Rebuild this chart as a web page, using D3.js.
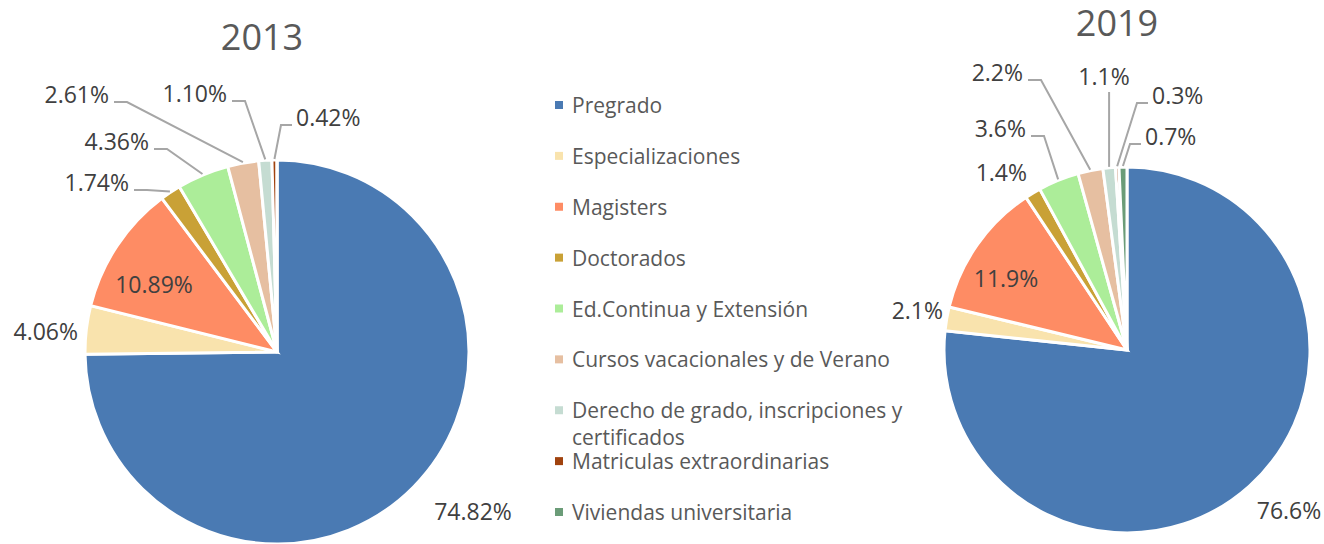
<!DOCTYPE html>
<html>
<head>
<meta charset="utf-8">
<script src="https://cdn.jsdelivr.net/npm/d3@7"></script>
<style>
  html, body { margin: 0; padding: 0; background: #fff; }
  svg { display: block; font-family: "Open Sans", "Noto Sans", sans-serif; }
</style>
</head>
<body>
<svg id="chart" width="1324" height="544"></svg>
<script>
// ---- data ----
const categories = [
  "Pregrado",
  "Especializaciones",
  "Magisters",
  "Doctorados",
  "Ed.Continua y Extensión",
  "Cursos vacacionales y de Verano",
  "Derecho de grado, inscripciones y certificados",
  "Matriculas extraordinarias",
  "Viviendas universitaria"
];
const values2013 = [74.82, 4.06, 10.89, 1.74, 4.36, 2.61, 1.10, 0.42, 0];
const labels2013 = ["74.82%", "4.06%", "10.89%", "1.74%", "4.36%", "2.61%", "1.10%", "0.42%", ""];
const values2019 = [76.6, 2.1, 11.9, 1.4, 3.6, 2.2, 1.1, 0.3, 0.7];
const labels2019 = ["76.6%", "2.1%", "11.9%", "1.4%", "3.6%", "2.2%", "1.1%", "0.3%", "0.7%"];
const colors = ["#4a7ab3", "#f9e3ad", "#fe8c64", "#c9a136", "#aced99", "#e6bfa1", "#c5dcd2", "#a0420e", "#6b9c78"];

// ---- layout (label placement relative to pie centre) ----
const layout2013 = [
  {a: "middle", x: 196, y: 159},
  {a: "end", x: -199, y: -21},
  {a: "middle", x: -123, y: -68},
  {a: "end", x: -148, y: -170, lead: "h"},
  {a: "end", x: -128, y: -211, lead: "h"},
  {a: "end", x: -168, y: -258, lead: "h"},
  {a: "end", x: -50, y: -259, lead: "h"},
  {a: "start", x: 19, y: -235, lead: "h"},
  null
];
const layout2019 = [
  {a: "middle", x: 162, y: 160},
  {a: "end", x: -184, y: -40},
  {a: "middle", x: -121, y: -72},
  {a: "end", x: -100, y: -178},
  {a: "end", x: -101, y: -222, lead: "h"},
  {a: "end", x: -104, y: -278, lead: "h"},
  {a: "middle", x: -23, y: -274, lead: "v"},
  {a: "start", x: 25, y: -255, lead: "h"},
  {a: "start", x: 18, y: -214, lead: "h"}
];

const svg = d3.select("#chart");

function drawPie(cx, cy, r, values, labels, lay, title, tx, ty) {
  const g = svg.append("g").attr("transform", `translate(${cx},${cy})`);
  const pie = d3.pie().sort(null).value(d => d)(values);
  const arc = d3.arc().innerRadius(0).outerRadius(r);
  g.selectAll("path.slice").data(pie).join("path")
    .attr("class", "slice")
    .attr("d", arc)
    .attr("fill", (d, i) => colors[i])
    .attr("stroke", "#fff")
    .attr("stroke-width", 3)
    .attr("stroke-linejoin", "miter");

  pie.forEach((d, i) => {
    const L = lay[i];
    if (!L || !labels[i]) return;
    const t = g.append("text")
      .attr("x", L.x).attr("y", L.y)
      .attr("text-anchor", L.a)
      .attr("dominant-baseline", "central")
      .attr("font-size", 23)
      .attr("fill", "#404040")
      .text(labels[i]);
    if (L.lead) {
      const mid = (d.startAngle + d.endAngle) / 2;
      const px = Math.sin(mid) * (r + 1), py = -Math.cos(mid) * (r + 1);
      let pts;
      if (L.lead === "v") {
        pts = [[px, L.y + 16], [px, py]];
      } else {
        const sx = L.a === "end" ? L.x + 5 : L.x - 4;
        const ex = L.a === "end" ? sx + 13 : sx - 11;
        const ly = L.y + 8;
        pts = [[sx, ly], [ex, ly], [px, py]];
      }
      g.append("path")
        .attr("d", d3.line()(pts))
        .attr("fill", "none")
        .attr("stroke", "#a6a6a6")
        .attr("stroke-width", 2);
    }
  });

  svg.append("text")
    .attr("x", tx).attr("y", ty)
    .attr("text-anchor", "middle")
    .attr("dominant-baseline", "central")
    .attr("font-size", 36)
    .attr("fill", "#595959")
    .text(title);
}

drawPie(277, 352, 192, values2013, labels2013, layout2013, "2013", 262, 36);
drawPie(1127, 350, 183, values2019, labels2019, layout2019, "2019", 1117, 22);

// legend
const legend = svg.append("g");
const rowY = d3.scalePoint().domain(d3.range(categories.length)).range([105, 512]);
categories.forEach((c, i) => {
  const y = rowY(i);
  legend.append("rect")
    .attr("x", 555).attr("y", y - 4).attr("width", 8).attr("height", 8)
    .attr("fill", colors[i]);
  const t = legend.append("text")
    .attr("x", 572).attr("y", y)
    .attr("dominant-baseline", "central")
    .attr("font-size", 21)
    .attr("fill", "#595959");
  if (i === 6) {
    t.append("tspan").attr("x", 572).text("Derecho de grado, inscripciones y");
    t.append("tspan").attr("x", 572).attr("dy", 27).text("certificados");
  } else {
    t.text(c);
  }
});
</script>
</body>
</html>
